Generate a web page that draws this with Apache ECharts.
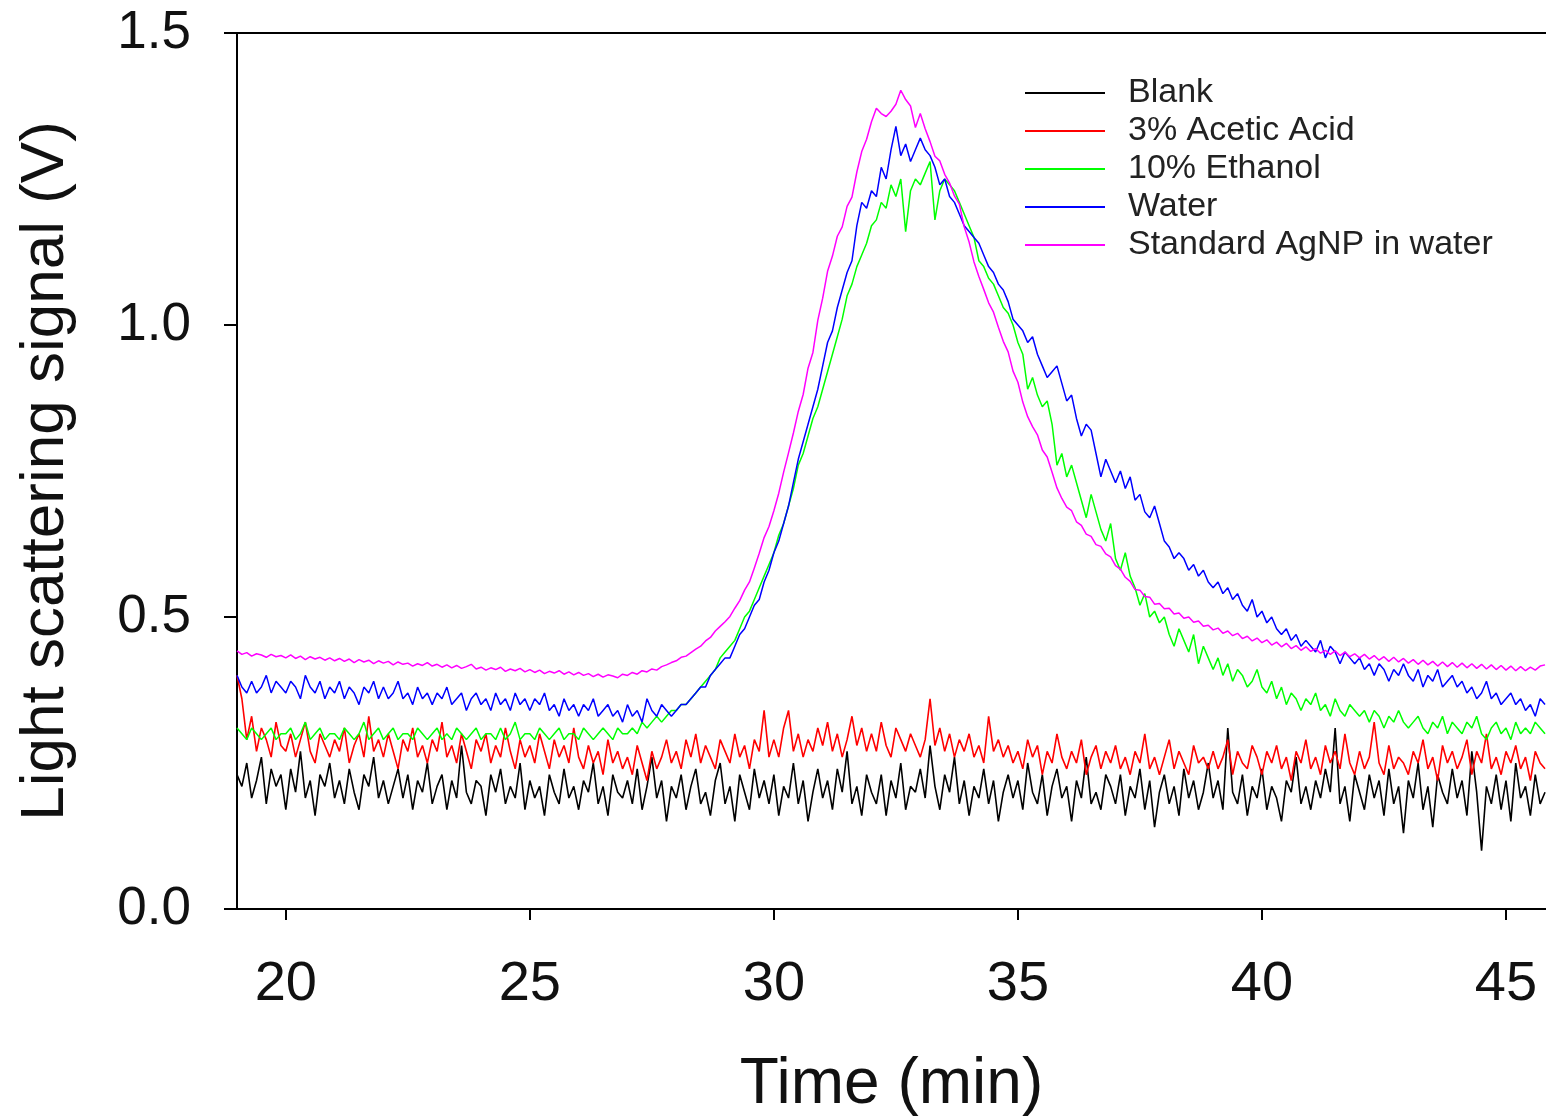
<!DOCTYPE html>
<html>
<head>
<meta charset="utf-8">
<script src="https://cdn.jsdelivr.net/npm/echarts@6/dist/echarts.min.js"></script>
<style>
  html, body { margin: 0; padding: 0; background: #fff; }
  #chart { width: 1546px; height: 1118px; }
</style>
</head>
<body>
<div id="chart"></div>
<script>
// sampling grid of the traces (min)
const t0 = 19.0;
const dt = 0.1;

// light scattering signal (V), one row per minute, 19.0 .. 45.8
const blank = [
  0.23, 0.21, 0.25, 0.19, 0.22, 0.26, 0.18, 0.24, 0.21, 0.23,
  0.17, 0.24, 0.20, 0.27, 0.19, 0.22, 0.16, 0.23, 0.21, 0.25,
  0.19, 0.22, 0.18, 0.24, 0.20, 0.17, 0.23, 0.21, 0.26, 0.19,
  0.22, 0.18, 0.21, 0.24, 0.19, 0.23, 0.17, 0.22, 0.20, 0.25,
  0.18, 0.21, 0.23, 0.17, 0.22, 0.19, 0.28, 0.20, 0.18, 0.22,
  0.21, 0.16, 0.23, 0.20, 0.24, 0.18, 0.21, 0.19, 0.25, 0.17,
  0.22, 0.19, 0.21, 0.16, 0.23, 0.20, 0.18, 0.24, 0.19, 0.21,
  0.17, 0.22, 0.20, 0.25, 0.18, 0.21, 0.16, 0.23, 0.20, 0.19,
  0.22, 0.18, 0.24, 0.17, 0.21, 0.26, 0.19, 0.22, 0.15, 0.21,
  0.19, 0.23, 0.17, 0.21, 0.24, 0.18, 0.20, 0.16, 0.22, 0.25,
  0.18, 0.21, 0.15, 0.23, 0.20, 0.17, 0.24, 0.19, 0.22, 0.18,
  0.23, 0.16, 0.21, 0.19, 0.25, 0.18, 0.22, 0.15, 0.20, 0.24,
  0.19, 0.22, 0.17, 0.24, 0.20, 0.27, 0.18, 0.21, 0.16, 0.23,
  0.20, 0.18, 0.23, 0.16, 0.22, 0.19, 0.25, 0.17, 0.21, 0.20,
  0.24, 0.19, 0.28, 0.21, 0.17, 0.23, 0.20, 0.26, 0.18, 0.22,
  0.16, 0.21, 0.19, 0.24, 0.18, 0.22, 0.15, 0.20, 0.23, 0.19,
  0.22, 0.17, 0.25, 0.20, 0.18, 0.23, 0.16, 0.21, 0.24, 0.19,
  0.21, 0.15, 0.22, 0.19, 0.26, 0.18, 0.20, 0.17, 0.23, 0.21,
  0.18, 0.23, 0.16, 0.21, 0.19, 0.24, 0.17, 0.22, 0.14, 0.20,
  0.23, 0.18, 0.21, 0.16, 0.24, 0.19, 0.22, 0.17, 0.20, 0.25,
  0.19, 0.22, 0.17, 0.31, 0.20, 0.18, 0.23, 0.16, 0.21, 0.19,
  0.24, 0.17, 0.21, 0.19, 0.15, 0.22, 0.20, 0.26, 0.18, 0.21,
  0.17, 0.22, 0.19, 0.24, 0.20, 0.31, 0.18, 0.21, 0.15, 0.23,
  0.20, 0.17, 0.23, 0.19, 0.22, 0.16, 0.24, 0.18, 0.21, 0.13,
  0.22, 0.19, 0.25, 0.17, 0.21, 0.14, 0.23, 0.20, 0.18, 0.24,
  0.19, 0.22, 0.16, 0.27, 0.20, 0.10, 0.21, 0.18, 0.23, 0.17,
  0.22, 0.15, 0.25, 0.19, 0.21, 0.16, 0.23, 0.18, 0.20
];

const aceticAcid = [
  0.40, 0.36, 0.29, 0.33, 0.27, 0.31, 0.29, 0.26, 0.32, 0.28,
  0.27, 0.30, 0.26, 0.29, 0.32, 0.27, 0.25, 0.30, 0.28, 0.26,
  0.29, 0.27, 0.31, 0.25, 0.28, 0.30, 0.26, 0.33, 0.27, 0.29,
  0.26, 0.30, 0.27, 0.24, 0.29, 0.27, 0.31, 0.26, 0.28, 0.25,
  0.29, 0.27, 0.32, 0.26, 0.28, 0.25, 0.30, 0.27, 0.24, 0.29,
  0.27, 0.30, 0.25, 0.28, 0.26, 0.31, 0.27, 0.24, 0.29, 0.26,
  0.28, 0.25, 0.30, 0.27, 0.24, 0.29, 0.26, 0.28, 0.25, 0.31,
  0.26, 0.24, 0.28, 0.25, 0.27, 0.23, 0.29, 0.25, 0.27, 0.24,
  0.26, 0.23, 0.28, 0.25, 0.22, 0.27, 0.24, 0.26, 0.29, 0.25,
  0.27, 0.24, 0.29, 0.26, 0.30, 0.25, 0.28, 0.26, 0.24, 0.29,
  0.27, 0.25, 0.30, 0.26, 0.28, 0.24, 0.29, 0.27, 0.34, 0.26,
  0.29, 0.26, 0.31, 0.34, 0.27, 0.30, 0.26, 0.29, 0.27, 0.31,
  0.28, 0.32, 0.27, 0.30, 0.26, 0.29, 0.33, 0.28, 0.31, 0.27,
  0.30, 0.27, 0.32, 0.28, 0.26, 0.31, 0.29, 0.27, 0.30, 0.28,
  0.26, 0.29, 0.36, 0.28, 0.31, 0.27, 0.30, 0.26, 0.29, 0.27,
  0.30, 0.26, 0.28, 0.25, 0.33, 0.27, 0.29, 0.26, 0.28, 0.25,
  0.27, 0.24, 0.29, 0.26, 0.28, 0.23, 0.27, 0.25, 0.30, 0.26,
  0.24, 0.27, 0.25, 0.29, 0.23, 0.26, 0.28, 0.24, 0.27, 0.25,
  0.28, 0.24, 0.26, 0.23, 0.27, 0.25, 0.30, 0.24, 0.26, 0.23,
  0.26, 0.29, 0.24, 0.27, 0.25, 0.23, 0.28, 0.25, 0.26, 0.24,
  0.27, 0.24, 0.26, 0.29, 0.23, 0.27, 0.25, 0.24, 0.28, 0.26,
  0.23, 0.27, 0.25, 0.28, 0.24, 0.26, 0.22, 0.27, 0.25, 0.29,
  0.24, 0.26, 0.23, 0.28, 0.25, 0.27, 0.24, 0.30, 0.25, 0.23,
  0.27, 0.24, 0.26, 0.32, 0.25, 0.23, 0.28, 0.24, 0.26, 0.25,
  0.23, 0.27, 0.25, 0.29, 0.24, 0.26, 0.22, 0.28, 0.25, 0.27,
  0.24, 0.26, 0.29, 0.23, 0.27, 0.25, 0.30, 0.24, 0.26, 0.23,
  0.27, 0.25, 0.28, 0.24, 0.26, 0.22, 0.27, 0.25, 0.24
];

const ethanol = [
  0.31, 0.30, 0.29, 0.31, 0.30, 0.29, 0.30, 0.31, 0.29, 0.30,
  0.30, 0.31, 0.29, 0.30, 0.32, 0.29, 0.30, 0.31, 0.29, 0.30,
  0.30, 0.29, 0.31, 0.30, 0.29, 0.30, 0.32, 0.29, 0.30, 0.31,
  0.29, 0.30, 0.31, 0.29, 0.30, 0.30, 0.29, 0.31, 0.30, 0.29,
  0.30, 0.31, 0.29, 0.30, 0.29, 0.31, 0.30, 0.29, 0.30, 0.31,
  0.29, 0.30, 0.30, 0.29, 0.31, 0.29, 0.30, 0.32, 0.29, 0.30,
  0.30, 0.29, 0.31, 0.30, 0.29, 0.30, 0.31, 0.29, 0.30, 0.30,
  0.29, 0.31, 0.30, 0.29, 0.30, 0.31, 0.30, 0.29, 0.31, 0.30,
  0.30, 0.31, 0.30, 0.32, 0.31, 0.32, 0.33, 0.32, 0.33, 0.34,
  0.34, 0.35, 0.35, 0.36, 0.37, 0.38, 0.39, 0.40, 0.41, 0.43,
  0.44, 0.45, 0.46, 0.48, 0.50, 0.51, 0.53, 0.55, 0.57, 0.59,
  0.61, 0.64, 0.66, 0.69, 0.72, 0.76, 0.78, 0.81, 0.84, 0.86,
  0.89, 0.92, 0.95, 0.98, 1.01, 1.05, 1.07, 1.10, 1.12, 1.14,
  1.17, 1.18, 1.21, 1.20, 1.24, 1.22, 1.25, 1.16, 1.23, 1.25,
  1.24, 1.26, 1.28, 1.18, 1.23, 1.25, 1.24, 1.23, 1.21, 1.19,
  1.17, 1.15, 1.11, 1.10, 1.08, 1.07, 1.05, 1.03, 1.02, 1.00,
  0.97, 0.95, 0.89, 0.91, 0.88, 0.86, 0.87, 0.83, 0.76, 0.78,
  0.74, 0.76, 0.73, 0.70, 0.67, 0.71, 0.68, 0.65, 0.63, 0.66,
  0.60, 0.58, 0.61, 0.57, 0.55, 0.52, 0.54, 0.50, 0.51, 0.49,
  0.50, 0.47, 0.45, 0.48, 0.46, 0.44, 0.47, 0.42, 0.45, 0.43,
  0.41, 0.43, 0.40, 0.42, 0.39, 0.41, 0.40, 0.38, 0.39, 0.41,
  0.38, 0.37, 0.39, 0.36, 0.38, 0.35, 0.37, 0.36, 0.34, 0.36,
  0.35, 0.37, 0.34, 0.35, 0.33, 0.36, 0.34, 0.33, 0.35, 0.34,
  0.33, 0.34, 0.32, 0.34, 0.33, 0.31, 0.33, 0.32, 0.34, 0.32,
  0.31, 0.32, 0.33, 0.31, 0.30, 0.32, 0.31, 0.33, 0.30, 0.32,
  0.31, 0.30, 0.32, 0.31, 0.33, 0.30, 0.29, 0.31, 0.32, 0.30,
  0.31, 0.29, 0.32, 0.30, 0.31, 0.30, 0.32, 0.31, 0.30
];

const water = [
  0.40, 0.38, 0.37, 0.39, 0.37, 0.38, 0.40, 0.37, 0.39, 0.38,
  0.37, 0.39, 0.38, 0.36, 0.40, 0.38, 0.37, 0.39, 0.36, 0.38,
  0.37, 0.39, 0.36, 0.38, 0.37, 0.35, 0.38, 0.37, 0.39, 0.36,
  0.38, 0.36, 0.37, 0.39, 0.36, 0.37, 0.35, 0.38, 0.36, 0.37,
  0.35, 0.37, 0.36, 0.38, 0.35, 0.36, 0.37, 0.34, 0.36, 0.37,
  0.35, 0.36, 0.34, 0.37, 0.35, 0.36, 0.34, 0.37, 0.35, 0.36,
  0.34, 0.36, 0.35, 0.37, 0.34, 0.35, 0.33, 0.36, 0.34, 0.35,
  0.33, 0.35, 0.34, 0.36, 0.33, 0.34, 0.35, 0.33, 0.34, 0.32,
  0.35, 0.33, 0.34, 0.32, 0.36, 0.34, 0.33, 0.35, 0.34, 0.33,
  0.34, 0.35, 0.35, 0.36, 0.37, 0.38, 0.38, 0.40, 0.41, 0.42,
  0.43, 0.43, 0.45, 0.47, 0.48, 0.50, 0.52, 0.53, 0.56, 0.58,
  0.61, 0.63, 0.66, 0.69, 0.73, 0.77, 0.80, 0.83, 0.86, 0.89,
  0.93, 0.97, 0.99, 1.03, 1.06, 1.09, 1.11, 1.17, 1.21, 1.20,
  1.23, 1.22, 1.27, 1.25, 1.30, 1.34, 1.29, 1.31, 1.28, 1.30,
  1.32, 1.30, 1.29, 1.27, 1.24, 1.25, 1.22, 1.21, 1.19, 1.17,
  1.16, 1.15, 1.14, 1.12, 1.10, 1.09, 1.07, 1.06, 1.04, 1.01,
  1.00, 0.99, 0.97, 0.98, 0.95, 0.93, 0.91, 0.92, 0.93, 0.90,
  0.87, 0.88, 0.84, 0.81, 0.83, 0.82, 0.78, 0.74, 0.77, 0.75,
  0.73, 0.75, 0.72, 0.74, 0.70, 0.71, 0.68, 0.67, 0.69, 0.66,
  0.63, 0.62, 0.60, 0.61, 0.60, 0.58, 0.59, 0.57, 0.58, 0.56,
  0.55, 0.56, 0.54, 0.55, 0.53, 0.54, 0.52, 0.51, 0.53, 0.50,
  0.51, 0.49, 0.50, 0.48, 0.47, 0.48, 0.46, 0.47, 0.45, 0.46,
  0.45, 0.44, 0.46, 0.43, 0.45, 0.44, 0.42, 0.44, 0.43, 0.42,
  0.43, 0.41, 0.42, 0.40, 0.42, 0.41, 0.39, 0.41, 0.40, 0.42,
  0.40, 0.39, 0.41, 0.38, 0.40, 0.39, 0.41, 0.38, 0.39, 0.40,
  0.38, 0.39, 0.37, 0.38, 0.36, 0.37, 0.39, 0.36, 0.37, 0.35,
  0.36, 0.37, 0.35, 0.36, 0.34, 0.35, 0.33, 0.36, 0.35
];

const standardAgNP = [
  0.442, 0.436, 0.439, 0.433, 0.437, 0.435, 0.431, 0.436, 0.432, 0.434,
  0.430, 0.435, 0.429, 0.433, 0.427, 0.432, 0.428, 0.431, 0.426, 0.430,
  0.425, 0.429, 0.424, 0.428, 0.422, 0.427, 0.423, 0.426, 0.420, 0.425,
  0.421, 0.424, 0.418, 0.423, 0.419, 0.421, 0.416, 0.420, 0.417, 0.422,
  0.416, 0.419, 0.414, 0.418, 0.413, 0.417, 0.412, 0.415, 0.419, 0.411,
  0.414, 0.409, 0.413, 0.410, 0.414, 0.407, 0.411, 0.408, 0.412, 0.406,
  0.410, 0.405, 0.409, 0.403, 0.407, 0.404, 0.408, 0.402, 0.406, 0.401,
  0.405, 0.400, 0.403, 0.398, 0.402, 0.397, 0.401, 0.399, 0.396, 0.402,
  0.400, 0.405, 0.402, 0.408, 0.406, 0.411, 0.409, 0.415, 0.418, 0.422,
  0.425, 0.431, 0.433, 0.439, 0.445, 0.450, 0.459, 0.465, 0.476, 0.484,
  0.492, 0.501, 0.515, 0.528, 0.546, 0.560, 0.584, 0.609, 0.636, 0.655,
  0.682, 0.712, 0.748, 0.781, 0.815, 0.852, 0.881, 0.926, 0.953, 1.008,
  1.046, 1.092, 1.118, 1.152, 1.168, 1.203, 1.219, 1.262, 1.297, 1.318,
  1.348, 1.371, 1.362, 1.357, 1.366, 1.378, 1.402, 1.386, 1.375, 1.338,
  1.362, 1.336, 1.314, 1.289, 1.281, 1.258, 1.243, 1.221, 1.207, 1.168,
  1.142, 1.108, 1.083, 1.061, 1.038, 1.022, 0.996, 0.972, 0.954, 0.921,
  0.902, 0.868, 0.843, 0.826, 0.812, 0.786, 0.774, 0.748, 0.721, 0.703,
  0.688, 0.682, 0.663, 0.657, 0.642, 0.638, 0.624, 0.621, 0.608, 0.603,
  0.588, 0.582, 0.568, 0.561, 0.547, 0.546, 0.535, 0.534, 0.522, 0.523,
  0.514, 0.515, 0.505, 0.507, 0.498, 0.500, 0.491, 0.493, 0.484, 0.486,
  0.478, 0.481, 0.472, 0.476, 0.468, 0.472, 0.463, 0.467, 0.459, 0.464,
  0.456, 0.461, 0.452, 0.457, 0.449, 0.455, 0.446, 0.451, 0.443, 0.449,
  0.441, 0.446, 0.438, 0.443, 0.436, 0.442, 0.434, 0.440, 0.432, 0.437,
  0.430, 0.436, 0.428, 0.434, 0.426, 0.432, 0.424, 0.431, 0.423, 0.429,
  0.421, 0.427, 0.419, 0.426, 0.418, 0.424, 0.416, 0.423, 0.415, 0.422,
  0.414, 0.421, 0.413, 0.420, 0.412, 0.419, 0.411, 0.418, 0.410, 0.417,
  0.409, 0.416, 0.408, 0.415, 0.408, 0.414, 0.409, 0.416, 0.418
];

const seriesNames = ['Blank', '3% Acetic Acid', '10% Ethanol', 'Water', 'Standard AgNP in water'];
const seriesColors = ['#000000', '#ff0000', '#00ff00', '#0000ff', '#ff00ff'];
const seriesValues = [blank, aceticAcid, ethanol, water, standardAgNP];

const xTicks = [20, 25, 30, 35, 40, 45];
const xMin = 19.0;
const xMax = 45.82;

const font = "'Liberation Sans', Arial, sans-serif";

const toPoints = (vals) => vals.map((v, i) => [+(t0 + i * dt).toFixed(1), v]);

const chart = echarts.init(document.getElementById('chart'));

const axisLine = { show: true, lineStyle: { color: '#000', width: 2 } };

const option = {
  backgroundColor: '#fff',
  animation: false,
  // keep the plot box fixed, labels may sit close to the edge
  grid: { left: 237, right: 0, top: 33, bottom: 209, outerBoundsMode: 'none' },
  legend: {
    orient: 'vertical',
    left: 1025,
    top: 74,
    icon: 'rect',
    itemWidth: 80,
    itemHeight: 2,
    itemGap: 0,
    padding: 0,
    textStyle: {
      fontFamily: font,
      fontSize: 34,
      color: '#222',
      lineHeight: 38,
      padding: [0, 0, 0, 18]
    },
    data: seriesNames
  },
  xAxis: [
    {
      type: 'value',
      min: xMin,
      max: xMax,
      name: 'Time (min)',
      nameLocation: 'middle',
      nameGap: 144,
      nameTextStyle: { fontFamily: font, fontSize: 64, color: '#111' },
      axisLine: axisLine,
      axisTick: { show: true, inside: false, length: 11, customValues: xTicks, lineStyle: { color: '#000', width: 2 } },
      axisLabel: { customValues: xTicks, margin: 48, fontFamily: font, fontSize: 56, color: '#111' },
      splitLine: { show: false }
    },
    {
      type: 'value',
      position: 'top',
      min: xMin,
      max: xMax,
      axisLine: axisLine,
      axisTick: { show: false },
      axisLabel: { show: false },
      splitLine: { show: false }
    }
  ],
  yAxis: {
    type: 'value',
    min: 0,
    max: 1.5,
    interval: 0.5,
    name: 'Light scattering signal (V)',
    nameLocation: 'middle',
    nameGap: 160,
    nameTextStyle: { fontFamily: font, fontSize: 62, color: '#111' },
    axisLine: axisLine,
    axisTick: { show: true, inside: false, length: 13, lineStyle: { color: '#000', width: 2 } },
    axisLabel: { margin: 46, fontFamily: font, fontSize: 53, color: '#111', formatter: (v) => v.toFixed(1) },
    splitLine: { show: false }
  },
  series: seriesNames.map((name, k) => ({
    name: name,
    type: 'line',
    data: toPoints(seriesValues[k]),
    symbol: 'none',
    color: seriesColors[k],
    lineStyle: { color: seriesColors[k], width: k < 2 ? 1.6 : 1.5 },
    emphasis: { disabled: true }
  }))
};

chart.setOption(option);
</script>
</body>
</html>
